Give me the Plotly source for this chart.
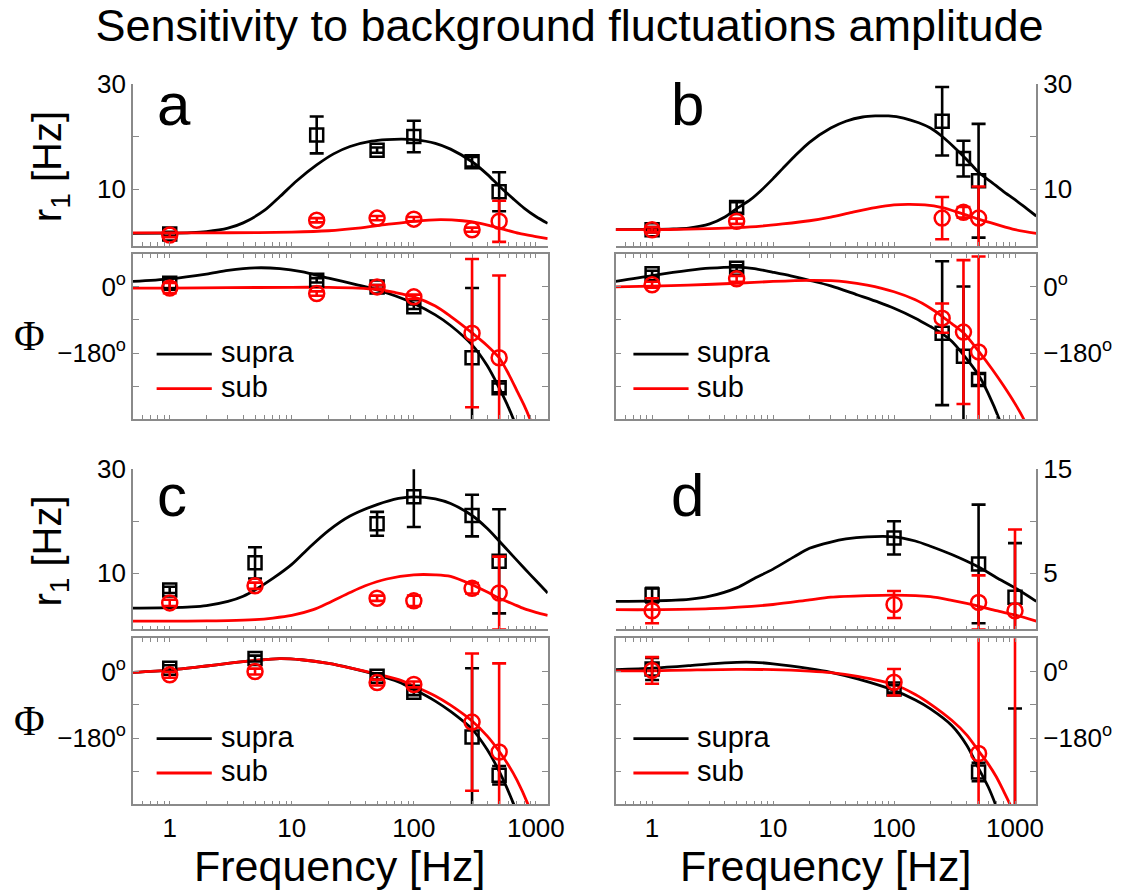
import math
import plotly.graph_objects as go

# ---------------- data ----------------
# Panel a: measured response (supra / sub threshold) and model fits
a_freq = [1, 16, 50, 100, 300, 500]
a_supra_r1 = [1.5, 20.3, 17.4, 20.0, 15.2, 9.5]
a_supra_r1_err = [0.4, 3.5, 0.5, 3.0, 0.9, 3.7]
a_sub_r1 = [1.3, 4.1, 4.5, 4.3, 2.3, 3.9]
a_sub_r1_err = [0.4, 0.4, 0.4, 0.4, 0.4, 3.9]
a_supra_phi = [10, 18, 0, -54, -193, -275]
a_supra_phi_err = [14, 6, 5, 6, 190, 12]
a_sub_phi = [-3, -18, 0, -27, -126, -193]
a_sub_phi_err = [14, 6, 5, 6, 202, 224]
a_fit_supra_f = [0.5, 1, 1.5, 2, 3, 4, 6, 8, 11, 16, 22, 30, 45, 60, 80, 100, 150, 200,
                 300, 400, 500, 650, 800, 1000, 1250]
a_fit_supra_r1 = [1.6, 1.65, 1.75, 1.95, 2.6, 3.6, 6.0, 8.6, 11.6, 14.6, 16.7, 18.1, 19.1,
                  19.4, 19.5, 19.4, 18.7, 17.6, 15.2, 12.8, 10.6, 8.2, 6.4, 4.8, 3.5]
a_fit_sub_f = [0.5, 1, 3, 10, 20, 35, 60, 100, 165, 250, 350, 500, 730, 1000, 1250]
a_fit_sub_r1 = [1.7, 1.7, 1.72, 1.85, 2.1, 2.6, 3.3, 3.9, 4.2, 4.0, 3.5, 2.6, 1.6, 1.0, 0.6]
a_fit_supra_phi_f = [0.5, 1, 2, 3, 5, 8, 12, 20, 35, 50, 70, 100, 150, 200, 300, 400, 500,
                     600, 700, 800]
a_fit_supra_phi = [15, 22, 35, 45, 52, 50, 42, 24, 5, -8, -24, -45, -76, -105, -158, -215,
                   -275, -330, -385, -440]
a_fit_sub_phi_f = [0.5, 1, 3, 10, 20, 35, 50, 70, 100, 150, 200, 300, 400, 500, 600, 700,
                   800, 900, 1000]
a_fit_sub_phi = [-3, -3, -2, -1, -1, -3, -7, -15, -27, -52, -80, -125, -160, -193, -238,
                 -283, -322, -362, -405]

# Panel b
b_freq = [1, 5, 250, 375, 500]
b_supra_r1 = [2.3, 6.5, 22.9, 15.8, 11.6]
b_supra_r1_err = [0.5, 1.0, 6.5, 3.4, 10.8]
b_sub_r1 = [2.3, 3.9, 4.5, 5.6, 4.5]
b_sub_r1_err = [0.5, 0.5, 4.0, 1.0, 6.0]
b_supra_phi = [36, 51, -126, -189, -252]
b_supra_phi_err = [8, 8, 196, 190, 15]
b_sub_phi = [6, 22, -85, -123, -177]
b_sub_phi_err = [8, 8, 40, 196, 260]
b_fit_supra_f = [0.5, 1, 1.5, 2, 3, 4, 5, 6.5, 8, 10, 12, 15, 20, 30, 40, 55, 70, 90, 120,
                 160, 200, 250, 300, 400, 500, 650, 800, 1000, 1250, 1500]
b_fit_supra_r1 = [2.3, 2.35, 2.45, 2.6, 3.4, 4.7, 6.3, 8.0, 9.8, 12.0, 13.9, 16.2, 18.9,
                  21.6, 22.9, 23.7, 23.9, 23.9, 23.5, 22.6, 21.6, 20.0, 18.4, 15.6, 13.2,
                  11.2, 9.6, 8.0, 6.3, 4.9]
b_fit_sub_f = [0.5, 1, 2, 3, 5, 8, 12, 20, 30, 45, 70, 100, 130, 180, 250, 350, 500, 700,
               1000, 1500]
b_fit_sub_r1 = [2.3, 2.3, 2.4, 2.5, 2.7, 3.0, 3.4, 4.0, 4.7, 5.6, 6.5, 7.0, 7.1, 7.0, 6.5,
                5.5, 4.3, 3.3, 2.3, 1.6]
b_fit_supra_phi_f = [0.5, 1, 2, 3, 5, 7, 10, 14, 20, 30, 50, 75, 100, 150, 200, 250, 300,
                     375, 500, 600, 740, 850]
b_fit_supra_phi = [15, 31, 45, 51, 54, 50, 40, 30, 18, 3, -22, -42, -58, -85, -108, -127,
                   -148, -185, -240, -290, -360, -420]
b_fit_sub_phi_f = [0.5, 1, 2, 5, 10, 20, 30, 40, 60, 100, 150, 200, 250, 300, 375, 500,
                   650, 800, 1000, 1180, 1400]
b_fit_sub_phi = [0, 2, 5, 10, 15, 18, 17, 14, 5, -13, -35, -58, -80, -100, -125, -175,
                 -225, -268, -318, -360, -420]

# Panel c
c_freq = [1, 5, 50, 100, 300, 500]
c_supra_r1 = [6.8, 12.0, 19.5, 24.7, 21.1, 12.3]
c_supra_r1_err = [0.6, 3.0, 2.3, 5.8, 4.0, 10.0]
c_sub_r1 = [4.3, 7.6, 5.2, 4.7, 7.1, 6.2]
c_sub_r1_err = [0.6, 0.6, 0.5, 1.0, 1.0, 7.0]
c_supra_phi = [9, 35, -13, -56, -177, -281]
c_supra_phi_err = [8, 8, 8, 8, 186, 25]
c_sub_phi = [-9, 0, -30, -35, -137, -218]
c_sub_phi_err = [8, 8, 8, 8, 186, 240]
c_fit_supra_f = [0.5, 1, 1.5, 2, 3, 4, 5, 7, 10, 14, 20, 30, 50, 75, 100, 150, 200, 300,
                 400, 500, 650, 800, 1000, 1250]
c_fit_supra_r1 = [3.3, 3.4, 3.55, 3.8, 4.6, 5.6, 6.8, 9.0, 11.7, 15.0, 18.2, 21.0, 23.2,
                  24.4, 24.7, 24.3, 23.4, 21.1, 18.6, 16.2, 13.3, 11.0, 8.6, 6.2]
c_fit_sub_f = [0.5, 1, 2, 3, 5, 7, 10, 15, 20, 30, 40, 60, 100, 150, 200, 300, 400, 500,
               650, 800, 1000, 1250]
c_fit_sub_r1 = [0.8, 0.8, 0.85, 0.9, 1.1, 1.4, 1.9, 3.0, 4.3, 6.3, 7.6, 8.9, 9.7, 9.7, 9.4,
                7.8, 6.4, 5.2, 4.1, 3.2, 2.5, 1.9]
c_fit_supra_phi_f = [0.5, 1, 2, 3, 5, 8, 12, 20, 30, 50, 75, 100, 150, 200, 300, 400, 500,
                     650, 800]
c_fit_supra_phi = [-2, 4, 15, 22, 30, 35, 32, 22, 10, -9, -28, -48, -80, -108, -156, -212,
                   -270, -355, -440]
c_fit_sub_phi_f = [0.5, 1, 2, 3, 5, 8, 12, 20, 30, 50, 75, 100, 150, 200, 300, 400, 500,
                   600, 700, 850, 1000]
c_fit_sub_phi = [-2, 4, 15, 22, 30, 35, 32, 22, 10, -7, -22, -39, -66, -91, -134, -175,
                 -216, -255, -294, -355, -420]

# Panel d
d_freq = [1, 100, 500, 1000]
d_supra_r1 = [2.9, 8.4, 5.9, 2.7]
d_supra_r1_err = [0.7, 1.6, 5.7, 5.2]
d_sub_r1 = [1.4, 2.0, 2.2, 1.4]
d_sub_r1_err = [1.2, 1.3, 2.6, 7.8]
d_supra_phi = [7, -47, -272, -480]
d_supra_phi_err = [30, 10, 25, 380]
d_sub_phi = [3, -29, -222, -560]
d_sub_phi_err = [36, 36, 420, 700]
d_fit_supra_f = [0.5, 1, 2, 3, 5, 7, 10, 15, 20, 30, 40, 60, 100, 150, 200, 300, 500, 700,
                 1000, 1500]
d_fit_supra_r1 = [2.3, 2.35, 2.5, 2.8, 3.6, 4.5, 5.4, 6.6, 7.4, 8.0, 8.3, 8.5, 8.5, 8.1,
                  7.6, 6.8, 5.6, 4.6, 3.6, 2.3]
d_fit_sub_f = [0.5, 1, 3, 10, 20, 30, 60, 100, 200, 300, 500, 700, 1000, 1500]
d_fit_sub_r1 = [1.5, 1.5, 1.6, 2.0, 2.45, 2.7, 2.85, 2.9, 2.75, 2.4, 1.85, 1.4, 1.0, 0.4]
d_fit_supra_phi_f = [0.5, 1, 2, 3, 5, 7, 10, 20, 30, 50, 100, 150, 200, 300, 400, 500, 600,
                     690, 800]
d_fit_supra_phi = [5, 9, 16, 21, 25, 25, 21, 8, -2, -20, -51, -77, -101, -146, -200, -262,
                   -312, -360, -420]
d_fit_sub_phi_f = [0.5, 1, 2, 5, 10, 20, 30, 50, 100, 150, 200, 300, 400, 500, 600, 700,
                   800, 910, 1000]
d_fit_sub_phi = [2, 2, 4, 6, 5, 1, -3, -13, -35, -62, -88, -132, -172, -215, -250, -285,
                 -322, -360, -395]

# axis ticks
x_tick_vals = ([0.5, 0.6, 0.7, 0.8, 0.9] + list(range(1, 10)) + list(range(10, 100, 10))
               + list(range(100, 1000, 100)) + [1000])
x_decade_labels = {1: "1", 10: "10", 100: "100", 1000: "1000"}
r1_ticks_30 = [10, 20, 30]
r1_labels_30 = ["10", "", "30"]
r1_ticks_15 = [5, 10, 15]
r1_labels_15 = ["5", "", "15"]
phi_ticks = [-270, -180, -90, 0]
phi_labels = ["", "\u2212180<sup>o</sup>", "", "0<sup>o</sup>"]

# ---------------- layout geometry (pixels) ----------------
W, H = 1139, 890
SANS = "Liberation Sans, Arial, Helvetica, sans-serif"
AX = "#8a8a8a"
RED = "#ff0000"


def fx(px):
    return px / W


def fy(py):
    return 1 - py / H


COLS = {"L": (135, 556), "R": (625, 1052)}
ROWS = {"amp_top": (70, 235), "phi_top": (243, 411),
        "amp_bot": (462, 625), "phi_bot": (634, 803)}

panels = [
    dict(name="a", col="L", amp="amp_top", phi="phi_top", i=1,
         xr=[0.5, 1250], yr=[-0.8, 30], rt=(r1_ticks_30, r1_labels_30),
         freq=a_freq, sr=a_supra_r1, sre=a_supra_r1_err, ur=a_sub_r1, ure=a_sub_r1_err,
         sp=a_supra_phi, spe=a_supra_phi_err, up=a_sub_phi, upe=a_sub_phi_err,
         fsf=a_fit_supra_f, fsr=a_fit_supra_r1, fuf=a_fit_sub_f, fur=a_fit_sub_r1,
         fspf=a_fit_supra_phi_f, fsp=a_fit_supra_phi, fupf=a_fit_sub_phi_f, fup=a_fit_sub_phi),
    dict(name="b", col="R", amp="amp_top", phi="phi_top", i=3,
         xr=[0.5, 1500], yr=[-0.8, 30], rt=(r1_ticks_30, r1_labels_30),
         freq=b_freq, sr=b_supra_r1, sre=b_supra_r1_err, ur=b_sub_r1, ure=b_sub_r1_err,
         sp=b_supra_phi, spe=b_supra_phi_err, up=b_sub_phi, upe=b_sub_phi_err,
         fsf=b_fit_supra_f, fsr=b_fit_supra_r1, fuf=b_fit_sub_f, fur=b_fit_sub_r1,
         fspf=b_fit_supra_phi_f, fsp=b_fit_supra_phi, fupf=b_fit_sub_phi_f, fup=b_fit_sub_phi),
    dict(name="c", col="L", amp="amp_bot", phi="phi_bot", i=5,
         xr=[0.5, 1250], yr=[-0.8, 30], rt=(r1_ticks_30, r1_labels_30),
         freq=c_freq, sr=c_supra_r1, sre=c_supra_r1_err, ur=c_sub_r1, ure=c_sub_r1_err,
         sp=c_supra_phi, spe=c_supra_phi_err, up=c_sub_phi, upe=c_sub_phi_err,
         fsf=c_fit_supra_f, fsr=c_fit_supra_r1, fuf=c_fit_sub_f, fur=c_fit_sub_r1,
         fspf=c_fit_supra_phi_f, fsp=c_fit_supra_phi, fupf=c_fit_sub_phi_f, fup=c_fit_sub_phi),
    dict(name="d", col="R", amp="amp_bot", phi="phi_bot", i=7,
         xr=[0.5, 1500], yr=[-0.4, 15], rt=(r1_ticks_15, r1_labels_15),
         freq=d_freq, sr=d_supra_r1, sre=d_supra_r1_err, ur=d_sub_r1, ure=d_sub_r1_err,
         sp=d_supra_phi, spe=d_supra_phi_err, up=d_sub_phi, upe=d_sub_phi_err,
         fsf=d_fit_supra_f, fsr=d_fit_supra_r1, fuf=d_fit_sub_f, fur=d_fit_sub_r1,
         fspf=d_fit_supra_phi_f, fsp=d_fit_supra_phi, fupf=d_fit_sub_phi_f, fup=d_fit_sub_phi),
]

fig = go.Figure()


def ax_name(kind, i):
    return kind if i == 1 else f"{kind}{i}"


def add_series(i, f_fit_black, y_fit_black, f_fit_red, y_fit_red,
               freq, yb, eb, yr_, er):
    xa, ya = ax_name("x", i), ax_name("y", i)
    fig.add_trace(go.Scatter(x=f_fit_black, y=y_fit_black, mode="lines",
                             line=dict(color="black", width=2.8, shape="spline", smoothing=0.8),
                             xaxis=xa, yaxis=ya, showlegend=False, hoverinfo="skip"))
    fig.add_trace(go.Scatter(x=f_fit_red, y=y_fit_red, mode="lines",
                             line=dict(color=RED, width=2.8, shape="spline", smoothing=0.8),
                             xaxis=xa, yaxis=ya, showlegend=False, hoverinfo="skip"))
    fig.add_trace(go.Scatter(x=freq, y=yb, mode="markers",
                             marker=dict(symbol="square-open", size=13, color="black",
                                         line=dict(width=2.5, color="black")),
                             error_y=dict(type="data", array=eb, color="black",
                                          thickness=2.6, width=7),
                             xaxis=xa, yaxis=ya, showlegend=False))
    fig.add_trace(go.Scatter(x=freq, y=yr_, mode="markers",
                             marker=dict(symbol="circle-open", size=15, color=RED,
                                         line=dict(width=2.5, color=RED)),
                             error_y=dict(type="data", array=er, color=RED,
                                          thickness=2.6, width=7),
                             xaxis=xa, yaxis=ya, showlegend=False))


layout_axes = {}
annotations = []
shapes = []
tick_font = dict(family=SANS, size=26, color="black")

for p in panels:
    i_amp, i_phi = p["i"], p["i"] + 1
    c0, c1 = COLS[p["col"]]
    side = "left" if p["col"] == "L" else "right"
    add_series(i_amp, p["fsf"], p["fsr"], p["fuf"], p["fur"],
               p["freq"], p["sr"], p["sre"], p["ur"], p["ure"])
    add_series(i_phi, p["fspf"], p["fsp"], p["fupf"], p["fup"],
               p["freq"], p["sp"], p["spe"], p["up"], p["upe"])

    xr_log = [math.log10(v) for v in p["xr"]]
    bottom_row = p["phi"] == "phi_bot"
    for i, row, is_phi in ((i_amp, p["amp"], False), (i_phi, p["phi"], True)):
        r0, r1 = ROWS[row]
        show_lbl = is_phi and bottom_row
        layout_axes[f"xaxis{i}"] = dict(
            type="log", domain=[fx(c0), fx(c1)], range=xr_log,
            anchor=ax_name("y", i), showline=True, linecolor=AX, linewidth=1.6,
            mirror="ticks" if is_phi else False,
            ticks="inside", ticklen=4, tickwidth=1, tickcolor=AX,
            tickmode="array", tickvals=x_tick_vals,
            ticktext=[x_decade_labels.get(v, "") for v in x_tick_vals],
            showticklabels=show_lbl, tickfont=tick_font,
            showgrid=False, zeroline=False, fixedrange=True)
        if is_phi:
            yt, yl, yrng = phi_ticks, phi_labels, [-360, 90]
        else:
            yt, yl = p["rt"]
            yrng = p["yr"]
        layout_axes[f"yaxis{i}"] = dict(
            domain=[fy(r1), fy(r0)], range=yrng, anchor=ax_name("x", i), side=side,
            showline=True, linecolor=AX, linewidth=1.6,
            mirror="ticks" if is_phi else False,
            ticks="inside", ticklen=6, tickwidth=1, tickcolor=AX,
            tickmode="array", tickvals=yt, ticktext=yl, tickfont=tick_font,
            showgrid=False, zeroline=False, fixedrange=True)

    # panel letter
    letter_y = 91 if p["amp"] == "amp_top" else 489
    annotations.append(dict(text=p["name"], x=fx(c0 + 22 + (0 if side == "left" else 32)),
                            y=fy(letter_y), xref="paper", yref="paper",
                            xanchor="left", yanchor="middle", showarrow=False,
                            font=dict(family=SANS, size=60, color="black")))

    # legend inside the phase panel
    r0, _ = ROWS[p["phi"]]
    lx0 = c0 + 24 if side == "left" else c0 + 18
    for k, (label, color) in enumerate((("supra", "black"), ("sub", RED))):
        ly = r0 + 102 + 35 * k
        shapes.append(dict(type="line", xref="paper", yref="paper",
                           x0=fx(lx0), x1=fx(lx0 + 56), y0=fy(ly), y1=fy(ly),
                           line=dict(color=color, width=2.8)))
        annotations.append(dict(text=label, x=fx(lx0 + 63), y=fy(ly - 2),
                                xref="paper", yref="paper", xanchor="left",
                                yanchor="middle", showarrow=False,
                                font=dict(family=SANS, size=29, color="black")))

    # x axis title under the bottom row
    if bottom_row:
        annotations.append(dict(text="Frequency [Hz]", x=fx((c0 + c1) / 2), y=fy(866),
                                xref="paper", yref="paper", xanchor="center",
                                yanchor="middle", showarrow=False,
                                font=dict(family=SANS, size=43, color="black")))

# y axis titles on the left column
for row_amp, row_phi in (("amp_top", "phi_top"), ("amp_bot", "phi_bot")):
    a0, a1 = ROWS[row_amp]
    p0, p1 = ROWS[row_phi]
    annotations.append(dict(text="r<sub>1</sub> [Hz]", x=fx(51), y=fy((a0 + a1) / 2 + 2),
                            xref="paper", yref="paper", xanchor="center", yanchor="middle",
                            textangle=-90, showarrow=False,
                            font=dict(family=SANS, size=40, color="black")))
    annotations.append(dict(text="\u03a6", x=fx(30), y=fy(p0 + 84),
                            xref="paper", yref="paper", xanchor="center", yanchor="middle",
                            showarrow=False,
                            font=dict(family="Liberation Serif, Times New Roman, serif",
                                      size=42, color="black")))

fig.update_layout(
    width=W, height=H, autosize=False,
    margin=dict(l=0, r=0, t=0, b=0),
    paper_bgcolor="white", plot_bgcolor="white",
    title=dict(text="Sensitivity to background fluctuations amplitude",
               x=0.5, xanchor="center", y=1 - 25 / H, yanchor="middle", yref="container",
               font=dict(family=SANS, size=45, color="black")),
    annotations=annotations, shapes=shapes, showlegend=False,
    **layout_axes,
)

fig.write_html("out.html")
